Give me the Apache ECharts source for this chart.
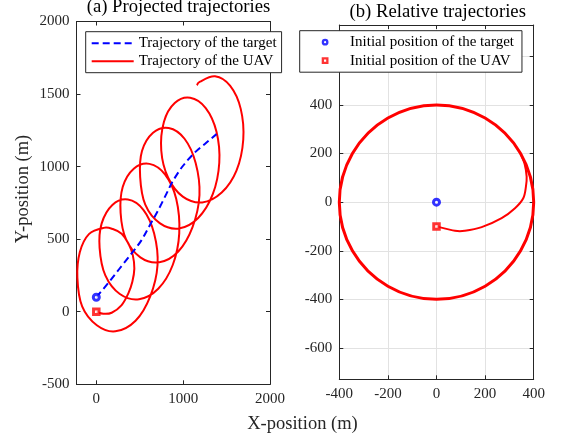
<!DOCTYPE html>
<html><head><meta charset="utf-8">
<script src="https://cdn.jsdelivr.net/npm/echarts@6/dist/echarts.min.js"></script>
<style>html,body{margin:0;padding:0;background:#fff}#c{width:563px;height:441px}</style>
</head><body><div id="c"></div>
<script>
// ---- data ----
// (a) projected trajectories
const targetX = [0, 134, 269, 404, 519, 615, 711, 807, 884, 999, 1134, 1269, 1384];
const targetY = [100, 195, 298, 400, 492, 595, 698, 812, 903, 1006, 1097, 1166, 1224];
const uavX = [0,81,177,292,369,415,438,420,370,292,190,85,-85,-190,-218,-163,6,220,452,621,705,666,542,364,185,61,38,104,271,492,713,880,955,920,793,612,431,304,280,342,507,726,944,1108,1188,1144,1016,834,653,526,505,564,730,952,1173,1341,1416,1384,1260,1081,903,779,748,826,996,1220,1444,1614,1692,1663,1542,1367,1195,1158];
const uavY = [0,-14,-7,46,126,206,297,390,470,537,570,578,535,410,235,37,-93,-135,-62,106,322,539,702,773,736,607,440,250,122,86,158,322,540,778,945,1019,985,859,680,500,375,341,415,583,804,1025,1192,1266,1233,1107,928,738,611,574,646,810,1027,1240,1403,1474,1438,1309,1111,925,793,753,821,972,1185,1398,1556,1622,1585,1561];
const targetStartA = [0, 100];
const uavStartA = [0, 0];
// (b) relative trajectories
const relTransX = [0, 76, 117, 186, 268, 323, 357, 368, 371, 362, 346];
const relTransY = [-100, -118, -118, -103, -66, -25, 16, 64, 105, 160, 200];
// the orbit, traced repeatedly (closed loop)
const relCircleX = [346, 200, 0, -200, -346, -400, -346, -200, 0, 200, 346, 400, 346];
const relCircleY = [200, 346, 400, 346, 200, 0, -200, -346, -400, -346, -200, 0, 200];
const targetStartB = [0, 0];
const uavStartB = [0, -100];
// tick labels
const aXTicks = [0, 1000, 2000];
const aYTicks = [-500, 0, 500, 1000, 1500, 2000];
const bXTicks = [-400, -200, 0, 200, 400];
const bYTicks = [-600, -400, -200, 0, 200, 400, 600];

const names = {
  target: 'Trajectory of the target', uav: 'Trajectory of the UAV',
  tStart: 'Initial position of the target', uStart: 'Initial position of the UAV'
};

// ---- chart ----
const pairs = (xs, ys) => xs.map((x, i) => [x, ys[i]]);
const FONT = 'Liberation Serif';
const AX = '#262626';
const RED = '#ff0000', BLUE = '#0000ff';
const SQUARE = 'path://M0,0H10V10H0Z';

function axis(extra, ticks, showLabel) {
  return Object.assign({
    type: 'value',
    axisLine: { show: true, onZero: false, lineStyle: { color: AX, width: 1 } },
    axisTick: { show: true, inside: true, length: 4, lineStyle: { color: AX, width: 1 }, customValues: ticks },
    axisLabel: { show: showLabel, customValues: ticks, formatter: v => String(v), fontFamily: FONT, fontSize: 15, color: AX, margin: 7 },
    splitLine: { show: false }
  }, extra);
}
const grid2Split = { show: true, lineStyle: { color: '#e2e2e2', width: 1 } };

// smooth curve through the data points, positioned by the axes (api.coord)
function curve(name, xs, ys, axisIdx, stroke, width, dash, z, closed) {
  return {
    name: name, type: 'custom', xAxisIndex: axisIdx, yAxisIndex: axisIdx, z: z, silent: true,
    data: pairs(xs, ys),
    renderItem: function (params, api) {
      if (params.dataIndex !== 0) return null;
      const p = xs.map((x, i) => api.coord([x, ys[i]]));
      const n = p.length;
      const at = (i) => {
        if (closed) { // first and last points coincide
          if (i < 0) return p[n - 1 + i];
          if (i > n - 1) return p[i - (n - 1)];
          return p[i];
        }
        return p[Math.min(Math.max(i, 0), n - 1)];
      };
      let d = 'M' + p[0][0] + ' ' + p[0][1];
      for (let i = 0; i < n - 1; i++) {
        const p0 = at(i - 1), p1 = p[i], p2 = p[i + 1], p3 = at(i + 2);
        const c1x = p1[0] + (p2[0] - p0[0]) / 6, c1y = p1[1] + (p2[1] - p0[1]) / 6;
        const c2x = p2[0] - (p3[0] - p1[0]) / 6, c2y = p2[1] - (p3[1] - p1[1]) / 6;
        d += ' C' + c1x + ' ' + c1y + ' ' + c2x + ' ' + c2y + ' ' + p2[0] + ' ' + p2[1];
      }
      return {
        type: 'path', shape: { pathData: d },
        style: { fill: 'none', stroke: stroke, lineWidth: width, lineDash: dash, lineCap: 'butt', lineJoin: 'round' }
      };
    }
  };
}

const targetMarker = { symbol: 'circle', symbolSize: 6, itemStyle: { color: '#fff', borderColor: BLUE, borderWidth: 3 }, z: 5 };
const uavMarker = { symbol: SQUARE, symbolSize: 5.5, itemStyle: { color: '#fff', borderColor: RED, borderWidth: 3 }, z: 5 };

const chart = echarts.init(document.getElementById('c'), null, { renderer: 'canvas' });
chart.setOption({
  animation: false,
  backgroundColor: '#fff',
  grid: [
    { left: 76.5, top: 21.5, width: 193.5, height: 362.8 },
    { left: 339.3, top: 25, width: 194.4, height: 354.3 }
  ],
  xAxis: [
    axis({ gridIndex: 0, min: -228, max: 2000, position: 'bottom' }, aXTicks, true),
    axis({ gridIndex: 0, min: -228, max: 2000, position: 'top' }, aXTicks, false),
    axis({ gridIndex: 1, min: -400, max: 400, position: 'bottom', splitLine: grid2Split }, bXTicks, true),
    axis({ gridIndex: 1, min: -400, max: 400, position: 'top' }, bXTicks, false)
  ],
  yAxis: [
    axis({ gridIndex: 0, min: -500, max: 2000, position: 'left' }, aYTicks, true),
    axis({ gridIndex: 0, min: -500, max: 2000, position: 'right' }, aYTicks, false),
    axis({ gridIndex: 1, min: -729, max: 729, position: 'left', splitLine: grid2Split }, bYTicks, true),
    axis({ gridIndex: 1, min: -729, max: 729, position: 'right' }, bYTicks, false)
  ],
  legend: [
    {
      left: 85.7, top: 31.7, orient: 'vertical', itemWidth: 42, itemHeight: 12, itemGap: 3,
      padding: [4, 5, 4, 5], backgroundColor: '#fff', borderColor: AX, borderWidth: 1, borderRadius: 0,
      data: [names.target, names.uav], selectedMode: false,
      itemStyle: { opacity: 0 },
      textStyle: { fontFamily: FONT, fontSize: 15, color: '#000' }
    },
    {
      // content box starts at the small marker icon, so the left padding carries the icon offset
      left: 299.7, top: 30.7, orient: 'vertical', itemWidth: 40, itemHeight: 4.5, itemGap: 3.5,
      padding: [4, 8, 4, 22], backgroundColor: '#fff', borderColor: AX, borderWidth: 1, borderRadius: 0,
      data: [names.tStart, names.uStart], selectedMode: false,
      itemStyle: { borderWidth: 2.3 },
      textStyle: { fontFamily: FONT, fontSize: 15, color: '#000' }
    }
  ],
  series: [
    // legend entries for the two trajectories
    { name: names.target, type: 'line', xAxisIndex: 0, yAxisIndex: 0, data: [], symbol: 'none',
      lineStyle: { color: BLUE, width: 2, type: [7, 4] }, itemStyle: { color: BLUE } },
    { name: names.uav, type: 'line', xAxisIndex: 0, yAxisIndex: 0, data: [], symbol: 'none',
      lineStyle: { color: RED, width: 2 }, itemStyle: { color: RED } },
    curve('uav-curve', uavX, uavY, 0, RED, 2, null, 2, false),
    curve('target-curve', targetX, targetY, 0, BLUE, 2, [7, 4], 3, false),
    Object.assign({ name: names.tStart, type: 'scatter', xAxisIndex: 0, yAxisIndex: 0, data: [targetStartA] }, targetMarker),
    Object.assign({ name: names.uStart, type: 'scatter', xAxisIndex: 0, yAxisIndex: 0, data: [uavStartA] }, uavMarker),
    curve('rel-transient', relTransX, relTransY, 2, RED, 2, null, 2, false),
    curve('rel-circle', relCircleX, relCircleY, 2, RED, 3, null, 2, true),
    Object.assign({ name: names.tStart, type: 'scatter', xAxisIndex: 2, yAxisIndex: 2, data: [targetStartB] }, targetMarker),
    Object.assign({ name: names.uStart, type: 'scatter', xAxisIndex: 2, yAxisIndex: 2, data: [uavStartB] }, uavMarker)
  ],
  graphic: [
    { type: 'text', x: 178.5, y: 7, z: 10, style: { text: '(a) Projected trajectories', fontFamily: FONT, fontSize: 18.7, fill: '#000', align: 'center', verticalAlign: 'middle' } },
    { type: 'text', x: 437.7, y: 12.5, z: 10, style: { text: '(b) Relative trajectories', fontFamily: FONT, fontSize: 18.7, fill: '#000', align: 'center', verticalAlign: 'middle' } },
    { type: 'text', x: 302.5, y: 424, z: 10, style: { text: 'X-position (m)', fontFamily: FONT, fontSize: 18.5, fill: AX, align: 'center', verticalAlign: 'middle' } },
    { type: 'text', x: 23, y: 189, rotation: Math.PI / 2, z: 10, style: { text: 'Y-position (m)', fontFamily: FONT, fontSize: 18.5, fill: AX, align: 'center', verticalAlign: 'middle' } }
  ]
});
</script>
</body></html>
